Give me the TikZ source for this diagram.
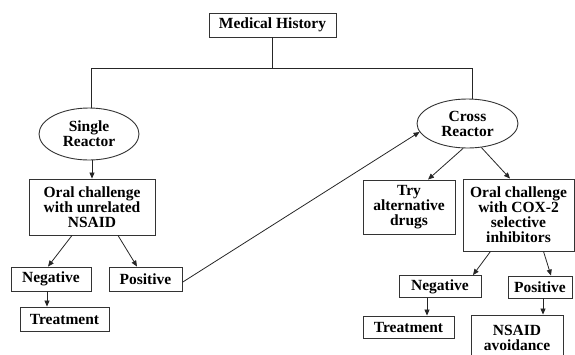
\documentclass[tikz,border=0pt]{standalone}
\usepackage{fontspec}
\setmainfont{Liberation Serif}
\usetikzlibrary{arrows.meta,shapes.geometric}
\begin{document}
\begin{tikzpicture}[x=1pt,y=-1pt,
  txt/.style={font=\fontsize{15.5}{15}\selectfont\bfseries, align=center, inner sep=0pt},
  box/.style={txt, draw=black!80, line width=0.9pt, rectangle},
  oval/.style={txt, draw=black!80, line width=0.9pt, ellipse},
  link/.style={line width=0.8pt, draw=black!85},
  arr/.style={link, -{Triangle[length=6pt,width=5pt]}}]
\clip (0,0) rectangle (575,354);
% nodes
\node[box, minimum width=127pt, minimum height=24pt] (MH) at (272.5,25) {Medical History};
\node[oval, minimum width=100pt, minimum height=52pt] (SR) at (89,134) {Single\\Reactor};
\node[box, minimum width=126pt, minimum height=56pt] (OC1) at (92,207) {Oral challenge\\with unrelated\\NSAID};
\node[box, minimum width=80pt, minimum height=24pt] (Neg1) at (51,279) {Negative};
\node[box, minimum width=73pt, minimum height=24pt] (Pos1) at (145.5,279) {Positive};
\node[box, minimum width=89pt, minimum height=24pt] (Tr1) at (64.5,319) {Treatment};
\node[oval, minimum width=101pt, minimum height=49pt] (CR) at (467.5,123.5) {Cross\\Reactor};
\node[box, minimum width=92pt, minimum height=54pt] (Try) at (409,207) {Try\\alternative\\drugs};
\node[box, minimum width=111pt, minimum height=72pt] (OC2) at (518.5,215) {Oral challenge\\with COX-2\\selective\\inhibitors};
\node[box, minimum width=82pt, minimum height=22pt] (Neg2) at (440,286.5) {Negative};
\node[box, minimum width=64pt, minimum height=22pt] (Pos2) at (540,287) {Positive};
\node[box, minimum width=91pt, minimum height=22pt] (Tr2) at (408.5,327) {Treatment};
\node[box, minimum width=92pt, minimum height=46pt] (NA) at (517,338) {NSAID\\avoidance};
% connectors
\draw[link] (MH.south) -- ++(0,31) coordinate (J);
\draw[link] (J) -| ([xshift=2pt]SR.north);
\draw[link] (J) -| ([xshift=4.5pt]CR.north);
\draw[arr] (SR.south -| OC1.north) -- (OC1.north);
\draw[arr] ([xshift=-20pt]OC1.south) -- ([xshift=-3pt]Neg1.north);
\draw[arr] ([xshift=26pt]OC1.south) -- ([xshift=-8.5pt]Pos1.north);
\draw[arr] ([xshift=-4pt]Neg1.south) -- ([xshift=-4pt]Neg1.south |- Tr1.north);
\draw[arr] (Pos1.-5) -- (CR.190);
\draw[arr] (CR.-100) -- ([xshift=19pt]Try.north);
\draw[arr] (CR.-60) -- ([xshift=-8.5pt]OC2.north);
\draw[arr] ([xshift=-28pt]OC2.south) -- ([xshift=33pt]Neg2.north);
\draw[arr] ([xshift=25pt]OC2.south) -- ([xshift=11pt]Pos2.north);
\draw[arr] ([xshift=-13pt]Neg2.south) -- ([xshift=-13pt]Neg2.south |- Tr2.north);
\draw[arr] ([xshift=3pt]Pos2.south) -- ([xshift=3pt]Pos2.south |- NA.north);
\end{tikzpicture}
\end{document}
